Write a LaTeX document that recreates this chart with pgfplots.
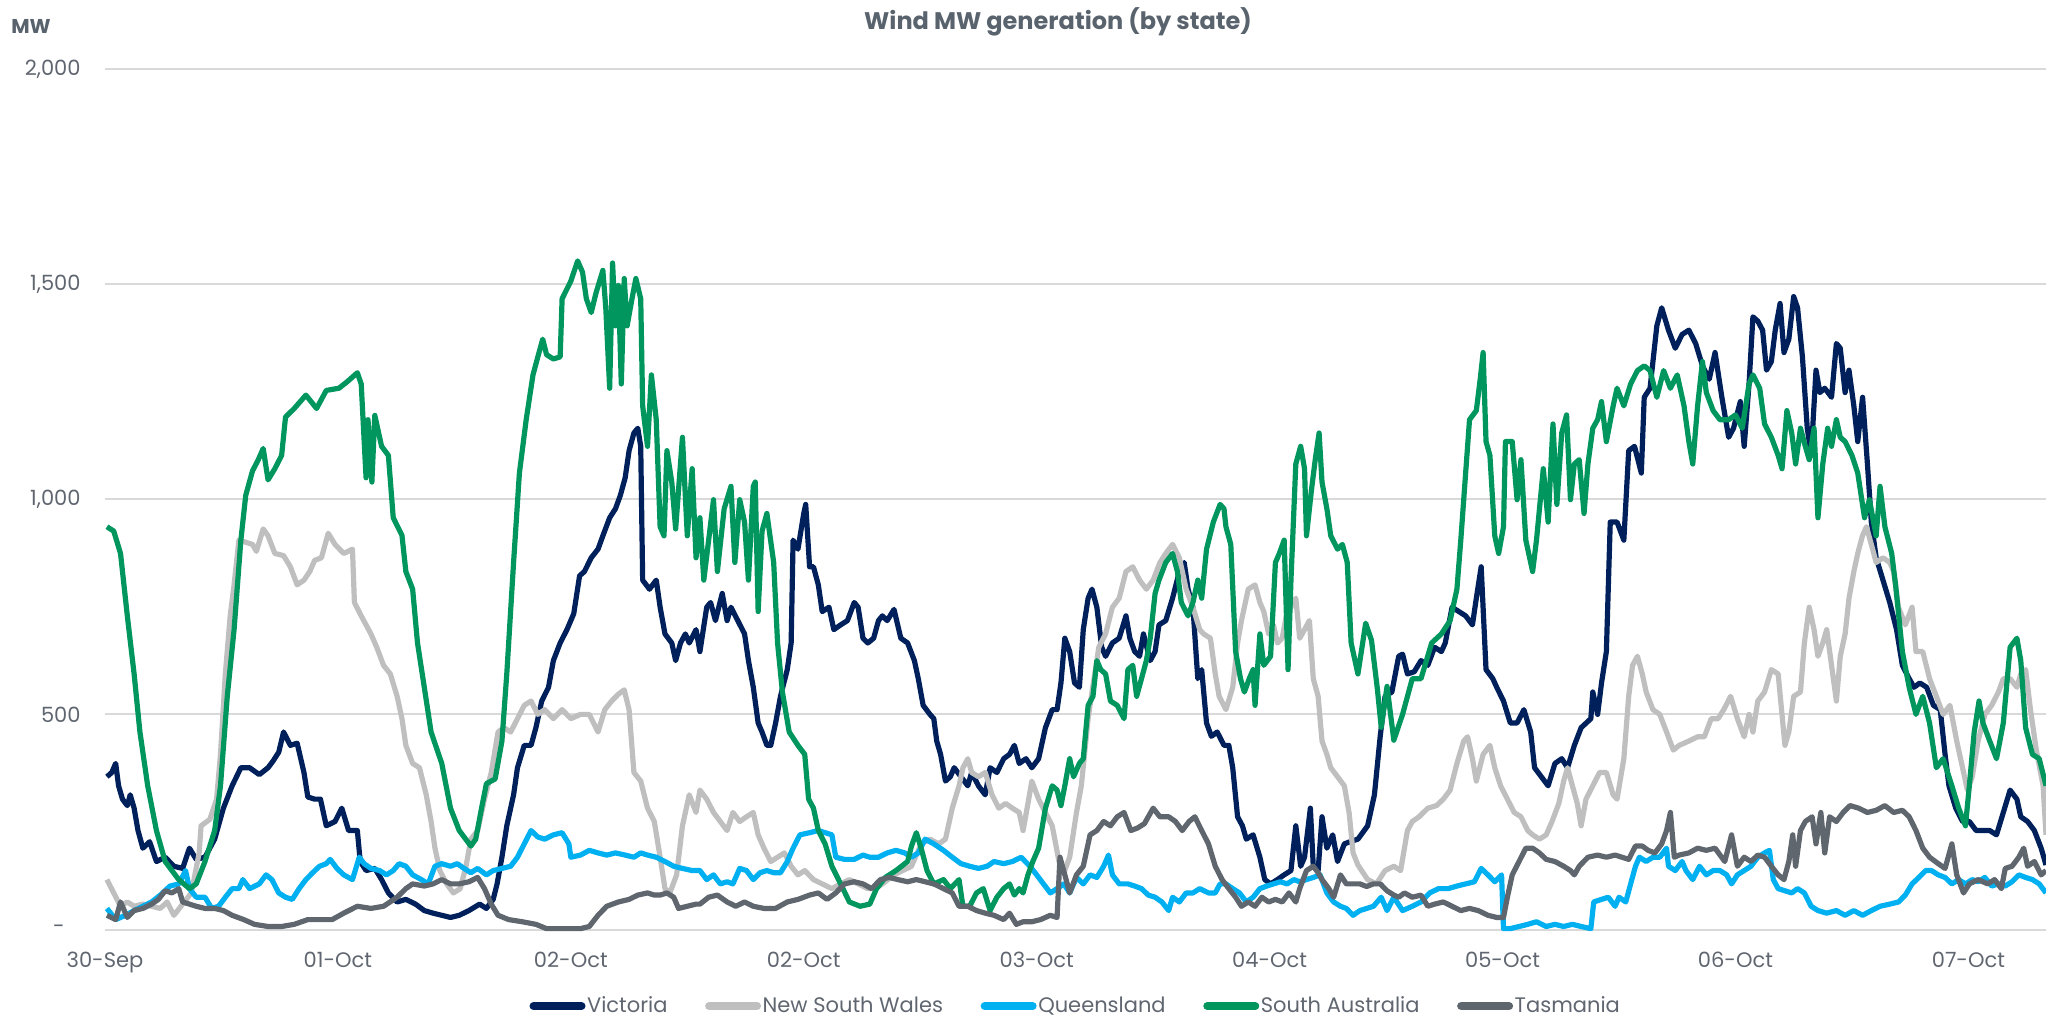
\documentclass[border=0pt]{standalone}
\usepackage{pgfplots}
\pgfplotsset{compat=1.18}
\usepackage{fontspec}
\setmainfont{Poppins}
\definecolor{vic}{RGB}{0,32,91}
\definecolor{nsw}{RGB}{191,191,191}
\definecolor{qld}{RGB}{0,176,240}
\definecolor{sa}{RGB}{0,150,94}
\definecolor{tas}{RGB}{95,102,110}
\definecolor{gridc}{RGB}{217,217,217}
\definecolor{titlegray}{RGB}{89,99,110}
\definecolor{tickgray}{RGB}{96,102,112}
\begin{document}
\begin{tikzpicture}
\begin{axis}[
  at={(0,0)}, anchor=south west,
  scale only axis, width=970.5pt, height=430.25pt,
  xmin=0, xmax=200, ymin=0, ymax=2000,
  axis line style={draw=none},
  major tick length=0pt,
  ymajorgrids, grid style={draw=gridc, line width=1pt},
  xtick={0,24,48,72,96,120,144,168,192},
  xticklabels={30-Sep,01-Oct,02-Oct,02-Oct,03-Oct,04-Oct,05-Oct,06-Oct,07-Oct},
  ytick={0,500,1000,1500,2000},
  yticklabels={{-\hspace*{8pt}},500,{1,000},{1,500},{2,000}},
  ticklabel style={font=\fontsize{10.5}{12}\selectfont, text=tickgray},
  xticklabel style={inner sep=0pt, anchor=north, yshift=-11pt},
  yticklabel style={inner sep=0pt, anchor=east, xshift=-12pt},
  clip=false, no markers,
  every axis plot/.append style={line width=2.6pt, line join=round},
  legend columns=5,
  legend cell align=left,
  legend style={at={(axis description cs:0.5,-0.089)}, anchor=center, draw=none, fill=none,
    font=\fontsize{10.5}{12}\selectfont, text=tickgray,
    /tikz/every even column/.append style={column sep=18pt},
    nodes={inner sep=0.8pt}},
  legend image code/.code={\draw[#1, line width=4pt, line cap=round] (2pt,0pt) -- (26pt,0pt);},
]
\addplot[vic] coordinates {(0.2,355)(0.7,365)(1.1,386)(1.4,334)(1.8,303)(2.3,288)(2.6,313)(3,282)(3.4,230)(3.9,189)(4.6,204)(5.3,158)(6.2,168)(7.1,147)(8,142)(8.7,189)(9.4,163)(10.3,168)(11.3,210)(12.2,282)(13.1,334)(14,376)(14.9,376)(15.9,360)(16.8,376)(17.3,391)(17.9,412)(18.4,459)(19.1,428)(19.8,433)(20.5,365)(20.9,308)(21.6,303)(22.2,303)(22.8,241)(23.7,251)(24.4,282)(25.1,230)(26,230)(26.3,158)(26.9,137)(27.8,142)(28.5,116)(29.2,85)(30.1,64)(31,70)(32,59)(32.9,44)(33.8,38)(34.7,33)(35.6,28)(36.5,33)(37.5,44)(38.6,59)(39.3,49)(40,70)(40.4,106)(40.9,168)(41.4,241)(42.1,313)(42.5,376)(43.2,428)(43.9,428)(44.4,469)(45,531)(45.7,563)(46.2,625)(46.9,666)(47.6,697)(48.3,734)(48.9,822)(49.4,832)(50.1,864)(50.8,884)(51.3,915)(52,957)(52.6,978)(53.1,1009)(53.6,1050)(54,1113)(54.5,1154)(54.9,1165)(55.2,1123)(55.4,812)(56.1,791)(56.8,812)(57.2,749)(57.7,687)(58.4,666)(58.8,625)(59.3,666)(59.8,687)(60.2,666)(60.9,697)(61.3,646)(62,749)(62.4,760)(62.9,718)(63.6,781)(64.1,718)(64.5,749)(65.2,718)(65.9,687)(66.3,625)(66.8,563)(67.3,480)(67.7,459)(68.2,428)(68.6,428)(69.1,480)(69.6,542)(70.3,604)(70.7,666)(70.9,905)(71.4,884)(72,967)(72.2,988)(72.6,843)(73,843)(73.5,801)(73.9,739)(74.6,749)(75.1,697)(75.8,708)(76.5,718)(77.2,760)(77.6,749)(78.1,677)(78.6,666)(79.2,677)(79.7,718)(80.1,729)(80.6,718)(81.3,744)(82,677)(82.7,666)(83.4,625)(83.8,583)(84.3,521)(85,500)(85.4,490)(85.7,438)(86.1,407)(86.6,345)(87.1,355)(87.5,376)(88.2,355)(88.9,334)(89.3,365)(90,334)(90.7,313)(91.2,376)(91.9,365)(92.6,397)(93.2,407)(93.7,428)(94.2,386)(94.9,397)(95.5,376)(96.2,397)(96.9,469)(97.6,511)(98.1,511)(98.5,573)(98.9,677)(99.4,646)(99.9,573)(100.4,563)(100.8,697)(101.3,770)(101.7,791)(102.2,749)(102.7,656)(103.1,635)(103.8,666)(104.5,677)(105.2,729)(105.6,677)(106.1,646)(106.6,635)(107,687)(107.7,625)(108.2,646)(108.6,708)(109.3,718)(110,770)(110.7,832)(111.2,853)(111.6,791)(112.1,749)(112.6,583)(113,604)(113.5,480)(114,449)(114.6,459)(115.3,428)(115.8,428)(116.2,376)(116.7,262)(117.2,241)(117.6,210)(118.3,220)(119,168)(119.5,116)(120.1,106)(120.8,116)(121.5,127)(122.2,137)(122.7,241)(123.2,147)(123.6,168)(124.2,282)(124.5,147)(125,137)(125.4,262)(125.9,189)(126.5,220)(127,158)(127.7,199)(128.4,205)(129.1,210)(130.1,241)(130.8,313)(131.4,450)(131.9,542)(132.6,552)(133.3,635)(133.7,640)(134.2,594)(134.9,599)(135.6,625)(136.3,614)(137,656)(137.7,646)(138.1,666)(138.8,749)(139.5,739)(140.2,729)(140.9,708)(141.3,770)(141.8,843)(142.3,604)(143,583)(143.4,563)(144.1,531)(144.8,480)(145.5,480)(146.2,511)(146.9,459)(147.3,376)(148,355)(148.7,334)(149.4,386)(150.1,397)(150.7,376)(151.4,428)(152.1,469)(153.1,490)(153.3,552)(153.8,500)(154.2,573)(154.7,646)(155.1,947)(155.8,947)(156.5,905)(157,1113)(157.6,1123)(158.3,1061)(158.6,1237)(159.2,1258)(159.9,1403)(160.4,1445)(161.1,1393)(161.8,1351)(162.5,1383)(163.2,1393)(163.9,1362)(164.6,1310)(165.3,1279)(165.9,1341)(166.6,1237)(167.3,1144)(167.8,1165)(168.5,1227)(168.9,1123)(169.4,1268)(169.8,1424)(170.3,1414)(170.8,1393)(171.2,1300)(171.7,1320)(172.1,1393)(172.6,1455)(173,1341)(173.5,1372)(174,1471)(174.4,1445)(174.9,1331)(175.4,1165)(175.8,1102)(176.3,1300)(176.7,1248)(177.2,1258)(177.9,1237)(178.4,1362)(178.8,1351)(179.3,1248)(179.7,1300)(180.2,1217)(180.6,1134)(181.1,1237)(181.6,1082)(182,947)(182.5,864)(183.2,812)(183.9,760)(184.6,697)(185.2,614)(185.9,583)(186.4,563)(187,573)(187.7,563)(188.4,521)(189.1,511)(189.6,407)(190,334)(190.7,282)(191.4,251)(192.1,251)(192.8,230)(193.5,230)(194.2,230)(194.9,220)(195.6,272)(196.3,324)(197,303)(197.4,262)(198.1,251)(198.8,230)(199.5,189)(200,150)};
\addplot[nsw] coordinates {(0.2,116)(0.9,85)(1.6,54)(2.3,64)(3,54)(3.9,59)(4.8,54)(5.7,49)(6.4,64)(7.1,33)(8,59)(8.9,85)(9.7,178)(9.9,241)(10.8,256)(11.5,303)(11.9,407)(12.4,594)(12.9,729)(13.3,801)(13.8,905)(14.5,900)(15.2,895)(15.6,879)(16.3,931)(16.8,915)(17.5,874)(18.4,869)(19.1,843)(19.8,801)(20.5,812)(21.1,832)(21.6,858)(22.3,864)(23,921)(23.7,895)(24.6,874)(25.5,884)(25.7,760)(26.4,729)(27.4,687)(28,656)(28.7,614)(29.4,594)(30.1,542)(30.6,490)(31,428)(31.7,386)(32.4,376)(33.1,313)(33.6,251)(34,189)(34.5,137)(35.2,106)(35.9,85)(36.6,95)(37.2,147)(37.7,210)(38.4,230)(39.1,303)(39.8,365)(40.5,459)(41.1,469)(41.8,459)(42.5,490)(43.2,521)(43.9,531)(44.6,500)(45.3,511)(46.2,490)(47.1,511)(48,490)(49,500)(49.9,500)(50.8,459)(51.5,511)(52.2,531)(52.9,547)(53.5,557)(54,511)(54.5,365)(55.2,345)(55.9,282)(56.6,251)(57.2,168)(57.7,95)(58.2,85)(58.9,127)(59.5,241)(60.2,313)(60.9,272)(61.3,324)(62,303)(62.7,272)(63.4,251)(64.1,230)(64.7,272)(65.4,251)(66.1,262)(66.8,272)(67.3,220)(67.9,189)(68.6,158)(69.3,168)(70,178)(70.7,147)(71.4,127)(72.1,137)(73,116)(73.9,106)(74.9,95)(75.8,106)(76.7,116)(77.6,106)(78.6,95)(79.4,95)(80.4,111)(81.3,127)(82.2,137)(83.1,147)(84.1,199)(85,210)(85.9,199)(86.6,210)(87.3,282)(88,334)(88.4,376)(88.9,397)(89.3,365)(90,355)(90.7,365)(91.4,313)(92.1,282)(92.8,293)(93.5,282)(94.2,272)(94.6,230)(95.1,293)(95.5,345)(96.2,303)(96.9,272)(97.6,241)(98.3,158)(98.8,132)(99.4,168)(100.1,272)(100.6,334)(101.3,490)(101.7,552)(102.4,656)(103.1,687)(103.8,749)(104.5,770)(105.2,832)(105.9,843)(106.6,812)(107.3,791)(108,812)(108.7,853)(109.3,874)(110,895)(110.7,864)(111.4,791)(112.1,749)(112.8,697)(113.2,687)(113.9,677)(114.4,594)(114.8,542)(115.5,511)(116.2,563)(116.7,666)(117.1,718)(117.8,791)(118.5,801)(119,760)(119.4,739)(119.9,687)(120.4,708)(120.8,666)(121.3,677)(121.8,739)(122.2,749)(122.7,770)(123.1,677)(123.6,697)(124.1,718)(124.5,583)(125,542)(125.4,438)(125.9,407)(126.3,376)(127,355)(127.7,334)(128.2,270)(128.6,178)(129.1,150)(130.1,116)(131,106)(131.9,137)(132.8,147)(133.5,137)(134.2,230)(134.7,251)(135.4,262)(136.3,282)(137.2,288)(137.9,303)(138.6,324)(139.3,386)(140,438)(140.4,448)(140.9,397)(141.3,345)(142,407)(142.7,428)(143.2,376)(143.8,334)(144.5,303)(145.2,272)(145.9,262)(146.6,230)(147.1,220)(147.8,210)(148.5,220)(149.1,251)(149.8,293)(150.3,345)(150.7,376)(151.2,334)(151.7,293)(152.1,241)(152.6,303)(153.3,334)(154,365)(154.7,365)(155.4,313)(155.8,303)(156.5,397)(157,542)(157.4,614)(157.9,635)(158.4,594)(158.8,552)(159.5,511)(160.2,500)(160.9,459)(161.6,417)(162.2,428)(163.2,438)(164.1,448)(164.8,448)(165.5,490)(166.2,490)(166.8,511)(167.5,542)(168.2,490)(168.9,448)(169.4,500)(169.8,459)(170.3,531)(171,552)(171.7,604)(172.4,594)(173.1,428)(173.5,459)(174,542)(174.7,552)(175.1,666)(175.6,749)(176.1,697)(176.5,635)(177,666)(177.4,697)(177.9,614)(178.4,531)(178.8,635)(179.3,687)(179.7,770)(180.2,832)(180.6,874)(181.1,916)(181.5,936)(182,895)(182.5,853)(183.2,864)(183.9,853)(184.3,832)(184.8,749)(185.5,708)(186.2,749)(186.6,646)(187.3,646)(188,583)(188.7,542)(189.4,500)(190.1,521)(190.8,438)(191.4,376)(191.9,324)(192.4,355)(193,438)(193.7,500)(194.4,521)(195.1,552)(195.6,583)(196.3,583)(197,563)(197.4,594)(197.9,604)(198.4,511)(199,417)(199.7,334)(200,220)};
\addplot[qld] coordinates {(0.2,49)(1.1,23)(2.1,33)(3,44)(3.9,54)(4.8,64)(5.7,80)(6.7,101)(7.6,106)(8.3,137)(8.7,95)(9.4,75)(10.3,75)(11,49)(11.7,54)(12.4,75)(13.1,95)(13.8,95)(14.2,116)(14.9,95)(15.9,106)(16.6,127)(17.2,116)(17.9,85)(18.6,75)(19.3,70)(20,95)(20.7,116)(21.4,132)(22.1,147)(22.8,153)(23.2,163)(23.9,142)(24.6,127)(25.5,116)(26.2,168)(26.7,153)(27.4,142)(28.3,137)(29,127)(29.7,137)(30.3,153)(31,147)(31.7,127)(32.6,116)(33.3,106)(34,147)(34.7,153)(35.6,147)(36.3,153)(37,142)(37.7,132)(38.4,142)(39.3,127)(40,137)(40.9,142)(41.8,147)(42.5,168)(43.2,199)(43.9,230)(44.6,215)(45.3,210)(46.2,220)(47.1,225)(47.8,199)(48,168)(49,173)(49.9,184)(50.8,178)(51.7,173)(52.6,178)(53.6,173)(54.5,168)(55.2,178)(55.9,173)(56.8,168)(57.7,158)(58.6,147)(59.5,142)(60.5,137)(61.3,137)(62,116)(62.7,127)(63.4,106)(64.1,111)(64.7,106)(65.4,142)(66.1,137)(66.8,116)(67.5,132)(68.2,137)(68.9,132)(69.6,132)(70.3,158)(70.9,189)(71.6,220)(72.6,225)(73.5,230)(74.2,225)(74.9,220)(75.3,168)(76.2,163)(77.2,163)(78.1,173)(78.8,168)(79.7,168)(80.6,178)(81.5,184)(82.4,178)(83.1,168)(83.8,178)(84.5,210)(85.4,199)(86.4,184)(87.3,168)(88.2,153)(89.1,147)(90,142)(90.9,147)(91.6,158)(92.6,153)(93.5,158)(94.4,168)(95.3,147)(96,127)(96.7,106)(97.4,85)(98.1,95)(98.8,106)(99.4,85)(100.1,121)(100.8,106)(101.5,127)(102.2,121)(102.9,147)(103.4,173)(103.8,127)(104.5,106)(105.4,106)(106.1,101)(106.8,95)(107.5,80)(108.2,75)(108.9,64)(109.6,44)(110,75)(110.7,64)(111.4,85)(112.1,85)(112.8,95)(113.7,85)(114.4,85)(114.9,106)(115.5,106)(116.2,95)(116.9,85)(117.6,64)(118.3,75)(119,95)(119.7,101)(120.4,106)(121.1,111)(121.8,106)(122.5,116)(123.1,111)(123.8,116)(124.5,121)(125.2,127)(125.9,85)(126.6,64)(127.3,54)(127.9,49)(128.6,33)(129.3,44)(130,49)(130.7,54)(131.5,75)(132.1,44)(132.8,75)(133.7,44)(134.7,54)(135.6,64)(136.5,85)(137.4,95)(138.4,95)(139.3,101)(140.2,106)(141.1,111)(141.8,142)(142.5,127)(143.2,111)(143.9,127)(144.1,2)(144.8,2)(145.7,7)(146.6,12)(147.5,18)(148.5,7)(149.4,12)(150.3,7)(151.2,12)(152.1,7)(153.1,2)(153.4,64)(154.2,70)(154.9,75)(155.6,54)(156,75)(156.7,64)(157.2,106)(157.7,147)(158.1,168)(158.8,158)(159.5,168)(160.2,168)(160.9,189)(161.1,147)(161.8,137)(162.5,158)(162.9,137)(163.6,116)(164.3,147)(165,127)(165.7,137)(166.4,137)(167.1,127)(167.6,106)(168.2,127)(168.9,137)(169.6,147)(170.3,168)(171,178)(171.5,184)(171.9,116)(172.4,95)(173.1,90)(173.8,85)(174.4,95)(175.1,85)(175.8,54)(176.5,44)(177.4,38)(178.4,44)(179.3,33)(180.2,44)(181.1,33)(182,44)(182.9,54)(183.9,59)(184.8,64)(185.5,80)(186.2,106)(186.9,121)(187.6,137)(188.2,137)(188.9,127)(189.6,121)(190.3,106)(191,116)(191.7,106)(192.4,116)(193,111)(193.7,121)(194.4,101)(195.1,106)(195.8,101)(196.5,111)(197.2,127)(197.9,121)(198.6,116)(199.3,106)(200,85)};
\addplot[sa] coordinates {(0.2,936)(0.9,926)(1.6,874)(2.3,729)(3,594)(3.6,459)(4.4,334)(5.3,230)(6.2,158)(7.6,116)(8.7,95)(9.4,106)(10.3,158)(11.3,230)(11.9,334)(12.6,542)(13.3,697)(14,905)(14.5,1009)(15.2,1066)(15.8,1092)(16.3,1118)(16.8,1045)(17.5,1071)(18.2,1102)(18.6,1191)(19.5,1211)(20.7,1242)(21.8,1211)(22.8,1253)(24.1,1258)(25,1274)(26,1294)(26.4,1268)(26.9,1050)(27.1,1185)(27.5,1040)(27.8,1195)(28.5,1123)(29.2,1102)(29.7,957)(30.6,916)(31,832)(31.7,791)(32.2,666)(32.9,563)(33.6,459)(34.7,386)(35.6,282)(36.5,230)(37.7,194)(38.2,210)(38.8,282)(39.3,339)(40.2,350)(40.9,438)(41.4,594)(42.1,853)(42.7,1061)(43.4,1185)(44.1,1289)(44.6,1331)(45.1,1372)(45.5,1336)(46.2,1326)(46.9,1331)(47.1,1466)(48,1507)(48.7,1554)(49.2,1528)(49.6,1466)(50.1,1434)(50.6,1480)(51.3,1532)(51.6,1445)(52,1258)(52.3,1549)(52.6,1403)(52.9,1497)(53.2,1268)(53.5,1513)(53.8,1403)(54.3,1466)(54.7,1513)(55.2,1466)(55.4,1217)(55.9,1123)(56.3,1289)(56.8,1185)(57.2,936)(57.6,915)(57.9,1113)(58.4,1040)(58.8,931)(59.5,1144)(60,915)(60.5,1071)(60.9,864)(61.3,957)(61.7,812)(62.2,905)(62.7,999)(63.1,832)(63.8,978)(64.5,1030)(64.9,853)(65.4,999)(65.9,947)(66.3,812)(66.8,1030)(67,1040)(67.3,739)(67.7,926)(68.2,967)(68.9,853)(69.3,666)(69.8,552)(70.5,459)(71.4,428)(72.1,407)(72.5,303)(73,282)(73.5,230)(74.2,199)(74.9,147)(75.8,106)(76.7,64)(77.8,54)(78.8,59)(79.5,95)(80.4,121)(81.5,137)(82.7,158)(83.1,194)(83.6,225)(84.1,189)(84.7,137)(85.4,106)(86.4,116)(87.1,95)(88,116)(88.4,54)(89.1,54)(89.8,85)(90.5,95)(91.2,44)(91.9,75)(92.6,95)(93.2,106)(93.7,80)(94.2,95)(94.6,85)(95.1,127)(95.6,158)(96.2,189)(96.9,282)(97.6,334)(98.1,324)(98.5,288)(98.9,334)(99.4,397)(99.8,355)(100.4,386)(100.8,397)(101.3,521)(101.8,542)(102.2,625)(102.6,604)(103.1,594)(103.6,531)(104.3,521)(105,490)(105.4,604)(105.9,614)(106.3,542)(106.8,583)(107.3,625)(107.7,677)(108.2,781)(108.6,812)(109.3,853)(110,874)(110.5,832)(110.9,760)(111.6,729)(112.1,760)(112.6,812)(113,770)(113.5,884)(114.2,947)(114.9,988)(115.3,978)(115.5,936)(116,895)(116.5,646)(117,583)(117.4,552)(117.9,583)(118.3,604)(118.5,521)(119,687)(119.4,614)(120.1,635)(120.6,853)(121,874)(121.5,905)(121.9,604)(122.2,812)(122.7,1082)(123.2,1123)(123.6,1071)(123.8,915)(124.3,1019)(124.7,1092)(125.1,1154)(125.4,1040)(125.9,978)(126.3,915)(127,884)(127.5,895)(128,853)(128.4,666)(129.1,594)(129.9,712)(130.5,672)(131.1,560)(131.5,470)(132.1,565)(132.8,440)(133.7,500)(134.7,583)(135.6,583)(136.7,666)(137.7,687)(138.6,718)(139.3,791)(139.7,905)(140.2,1061)(140.6,1185)(141.3,1206)(141.7,1279)(142,1341)(142.3,1134)(142.7,1102)(143.2,915)(143.6,874)(144.1,936)(144.3,1134)(145,1134)(145.5,999)(145.9,1092)(146.4,905)(147.1,832)(147.5,905)(148.2,1071)(148.7,947)(149.2,1175)(149.6,988)(150.1,1154)(150.6,1196)(151,999)(151.4,1082)(151.9,1092)(152.4,967)(152.8,1082)(153.3,1165)(153.8,1185)(154.2,1227)(154.7,1134)(155.4,1217)(155.8,1258)(156.5,1217)(157.2,1268)(157.9,1299)(158.6,1310)(159.2,1299)(159.9,1237)(160.6,1299)(161.3,1258)(162,1289)(162.7,1217)(163.2,1134)(163.6,1082)(164.1,1217)(164.6,1320)(165,1248)(165.7,1206)(166.4,1185)(167.3,1185)(168,1196)(168.7,1165)(169.4,1268)(169.8,1289)(170.5,1258)(171,1175)(171.7,1144)(172.4,1102)(172.8,1071)(173.3,1206)(173.8,1154)(174.2,1082)(174.7,1165)(175.2,1123)(175.6,1092)(176.1,1165)(176.5,957)(177,1082)(177.5,1165)(177.9,1123)(178.4,1185)(178.8,1144)(179.3,1134)(180,1102)(180.6,1061)(181.3,957)(181.8,999)(182.5,915)(182.9,1030)(183.4,936)(184.1,874)(184.5,801)(185.2,646)(185.9,563)(186.6,500)(187.3,542)(188,480)(188.7,376)(189.4,397)(190.3,334)(191,282)(191.7,241)(192.1,334)(192.6,459)(193.1,531)(193.5,480)(194.2,438)(194.9,397)(195.6,480)(196.3,656)(197,677)(197.4,625)(197.9,469)(198.6,407)(199.3,397)(200,334)};
\addplot[tas] coordinates {(0.2,33)(1.1,23)(1.6,64)(2.3,28)(3,44)(3.9,49)(4.8,59)(5.5,70)(6.2,90)(6.9,85)(7.6,95)(8,64)(8.7,59)(9.4,54)(10.3,49)(11.3,49)(12.2,44)(13.1,33)(14.3,23)(15.4,12)(16.8,7)(18.2,7)(19.5,12)(20.9,23)(22.3,23)(23.4,23)(24.6,38)(26,54)(27.4,49)(28.7,54)(30.1,75)(31,95)(31.7,106)(32.9,101)(33.8,106)(34.7,116)(35.6,106)(36.5,106)(37.5,111)(38.4,121)(39.1,95)(39.8,59)(40.5,33)(41.6,23)(43,18)(44.4,12)(45.5,2)(47.1,2)(49,2)(49.9,7)(50.8,33)(51.7,54)(52.9,64)(54,70)(54.9,80)(55.9,85)(56.6,80)(57.2,80)(57.9,85)(58.6,75)(59.1,49)(60,54)(60.9,59)(61.3,59)(62.2,75)(63.1,80)(64.1,64)(65,54)(65.9,64)(66.8,54)(67.9,49)(69.1,49)(70.3,64)(71.4,70)(72.6,80)(73.5,85)(74.4,70)(75.3,85)(76.2,106)(77.2,111)(78.1,106)(79,95)(79.9,116)(80.8,121)(81.7,116)(82.7,111)(83.6,116)(84.5,111)(85.4,106)(86.4,95)(87.3,85)(88,54)(88.9,54)(89.8,44)(90.7,38)(91.6,33)(92.6,23)(93.2,38)(93.9,12)(94.6,18)(95.5,18)(96.4,23)(97.4,33)(98.1,28)(98.4,168)(98.9,127)(99.4,85)(100.1,127)(100.8,147)(101.5,220)(102.2,230)(102.9,251)(103.6,241)(104.3,262)(105,272)(105.7,230)(106.4,236)(107.1,246)(108,282)(108.7,262)(109.6,262)(110.3,251)(111,230)(111.7,251)(112.3,262)(113,230)(113.7,199)(114.4,147)(115.1,116)(115.8,95)(116.5,75)(117.1,54)(117.8,64)(118.5,54)(119.2,75)(119.9,64)(120.6,70)(121.3,64)(122,85)(122.7,64)(123.1,95)(123.8,137)(124.5,147)(125,132)(125.4,116)(126.1,95)(126.6,75)(127.3,127)(127.9,106)(128.6,106)(129.3,106)(130,100)(130.7,106)(131.4,106)(132.1,90)(132.8,80)(133.3,75)(133.9,85)(134.7,75)(135.6,80)(136.3,54)(137,59)(137.9,64)(138.8,54)(139.7,44)(140.6,49)(141.5,44)(142.5,33)(143.4,28)(144.1,28)(144.5,75)(145,127)(145.7,158)(146.4,189)(147.1,189)(147.8,178)(148.5,163)(149.4,158)(150.3,147)(151,137)(151.4,127)(151.9,147)(152.8,168)(153.8,173)(154.7,168)(155.6,173)(156.3,168)(157,163)(157.7,194)(158.4,194)(159,184)(159.7,178)(160.4,199)(160.9,230)(161.3,272)(161.7,168)(162.2,173)(163.2,178)(164.1,189)(165,184)(165.9,189)(166.9,158)(167.6,220)(168.2,147)(168.9,168)(169.6,158)(170.3,173)(171,168)(171.7,147)(172.4,127)(173,116)(173.5,158)(173.9,220)(174.2,147)(174.7,230)(175.2,251)(175.9,262)(176.3,199)(176.8,272)(177.2,178)(177.7,262)(178.4,251)(179.1,272)(179.8,288)(180.7,282)(181.6,272)(182.5,277)(183.4,288)(184.3,272)(185.2,277)(185.9,262)(186.6,230)(187.3,189)(188,168)(188.9,153)(189.6,142)(190.3,199)(190.8,127)(191.5,85)(192.1,106)(193,116)(194,106)(194.7,116)(195.4,95)(195.8,142)(196.5,147)(197.2,168)(197.7,189)(198.1,147)(198.8,158)(199.5,127)(200,137)};
\legend{Victoria, New South Wales, Queensland, South Australia, Tasmania}
\end{axis}
\node[font=\bfseries\fontsize{12}{14}\selectfont, text=titlegray] at (476.5pt,453.75pt) {Wind MW generation (by state)};
\node[font=\bfseries\fontsize{10}{12}\selectfont, text=titlegray] at (-37pt,451.5pt) {MW};
\pgfresetboundingbox
\path[use as bounding box] (-52.5pt,-44.25pt) rectangle (970.5pt,464.75pt);
\end{tikzpicture}
\end{document}
